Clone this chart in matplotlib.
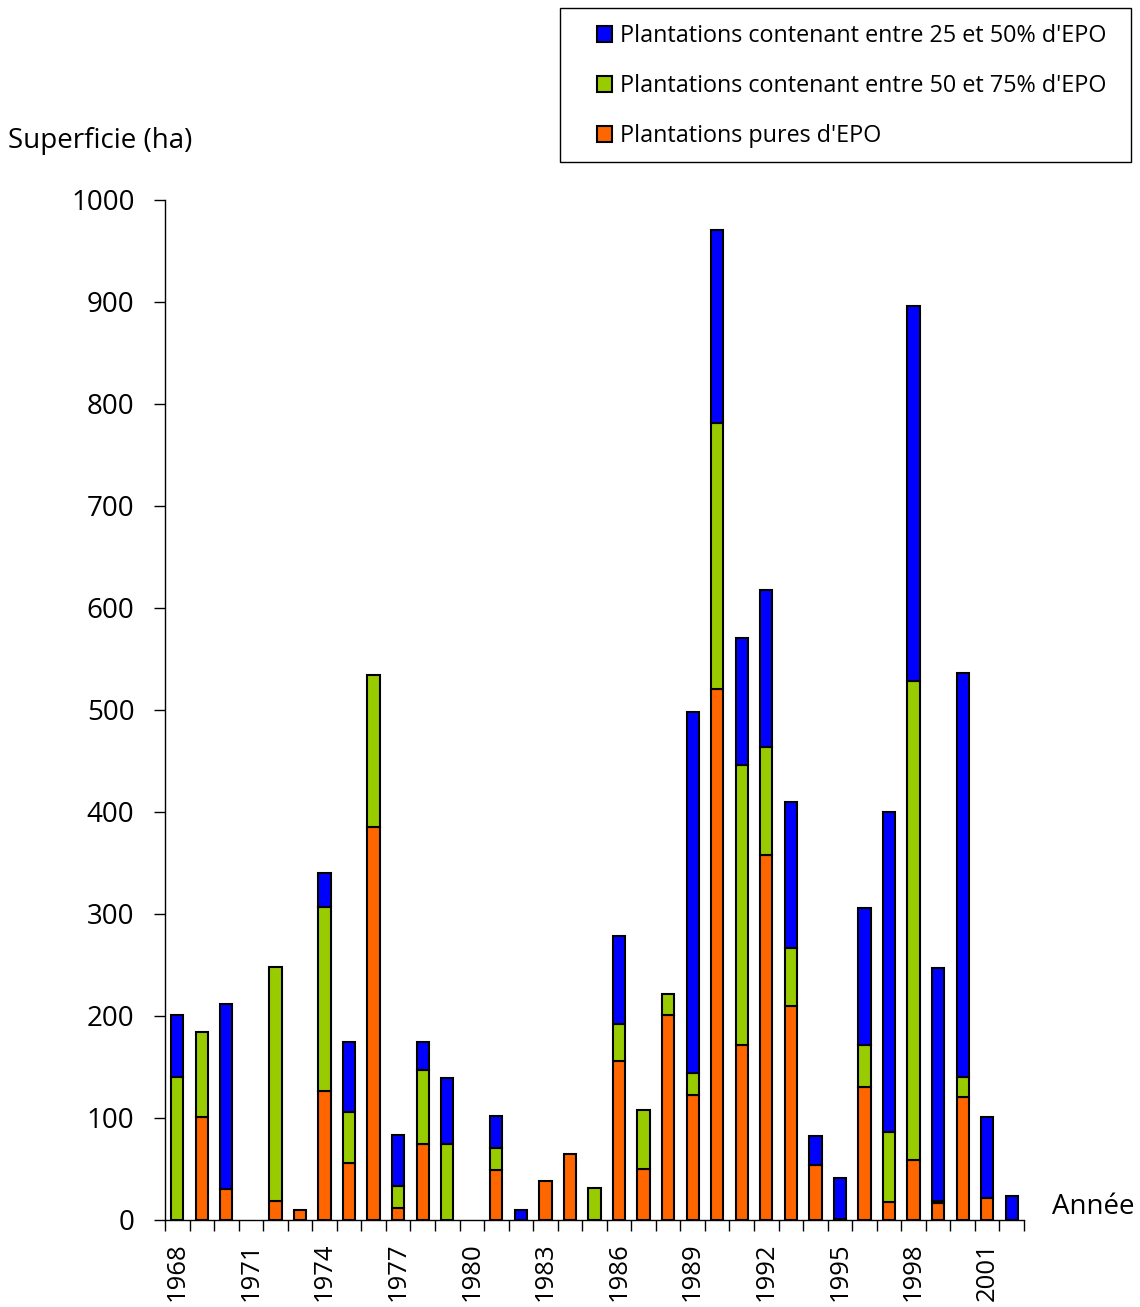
import matplotlib

matplotlib.use("Agg")

import matplotlib.pyplot as plt
import numpy as np
from matplotlib.patches import Patch, Rectangle

plt.rcParams["font.family"] = ["Open Sans", "DejaVu Sans"]

years = list(range(1968, 2003))
pures = [0, 101, 30, 0, 19, 10, 126, 56, 385, 12, 75, 0, 0, 49, 0, 38, 65, 0,
         156, 50, 201, 123, 521, 172, 358, 210, 54, 1, 130, 18, 59, 17, 121, 22, 0]
entre_50_75 = [140, 83, 0, 0, 229, 0, 181, 50, 149, 21, 72, 75, 0, 22, 0, 0, 0, 31,
               36, 58, 21, 21, 260, 274, 106, 57, 0, 0, 42, 68, 469, 2, 19, 0, 0]
entre_25_50 = [61, 0, 182, 0, 0, 0, 33, 69, 0, 50, 28, 64, 0, 31, 10, 0, 0, 0,
               86, 0, 0, 354, 190, 125, 154, 143, 28, 40, 134, 314, 368, 228, 396, 79, 24]

labels = ["Plantations contenant entre 25 et 50% d'EPO",
          "Plantations contenant entre 50 et 75% d'EPO",
          "Plantations pures d'EPO"]
colors = ["#0000FF", "#99CC00", "#FF6600"]

W, H = 1140, 1307
fig = plt.figure(figsize=(W / 100, H / 100), dpi=100)
ax = fig.add_axes([165 / W, 87 / H, 859 / W, 1020 / H])

x = np.arange(len(years))
bottom = np.zeros(len(years))
kw = dict(width=0.5, edgecolor="black", linewidth=1.5)
for vals, col in [(pures, colors[2]), (entre_50_75, colors[1]), (entre_25_50, colors[0])]:
    vals = np.array(vals, dtype=float)
    keep = vals > 0
    ax.bar(x[keep], vals[keep], bottom=bottom[keep], color=col, **kw)
    bottom += vals

ax.set_xlim(-0.5, len(years) - 0.5)
ax.set_ylim(0, 1000)
ax.set_yticks(np.arange(0, 1001, 100))
ax.tick_params(axis="y", labelsize=20, length=8, width=1, pad=14)

ax.set_xticks(np.arange(-0.5, len(years), 1.0))
ax.set_xticklabels([])
ax.set_xticks(x[::3], minor=True)
ax.set_xticklabels([str(y) for y in years[::3]], minor=True, rotation=90, fontsize=18.5)
ax.tick_params(axis="x", which="major", length=8, width=1)
ax.tick_params(axis="x", which="minor", length=0, pad=16)

for s in ["top", "right"]:
    ax.spines[s].set_visible(False)
for s in ["left", "bottom"]:
    ax.spines[s].set_linewidth(1)

fig.text(8 / W, 1 - 141 / H, "Superficie (ha)", fontsize=20, va="center", ha="left")
fig.text(1052 / W, 1 - 1207 / H, "Année", fontsize=20, va="center", ha="left")

# legend box drawn separately so the padding matches
fig.patches.append(Rectangle((560 / W, 1 - 162 / H), 571 / W, 154 / H,
                             transform=fig.transFigure, facecolor="white",
                             edgecolor="black", linewidth=1, zorder=0))
handles = [Patch(facecolor=c, edgecolor="black", linewidth=1.5) for c in colors]
leg = fig.legend(handles, labels, loc="upper left",
                 bbox_to_anchor=(597 / W, 1 - 24 / H),
                 fontsize=16.8, frameon=False,
                 handlelength=0.65, handleheight=0.65, handletextpad=0.35,
                 labelspacing=1.12, borderpad=0, borderaxespad=0)

fig.savefig("out.png", dpi=100)
